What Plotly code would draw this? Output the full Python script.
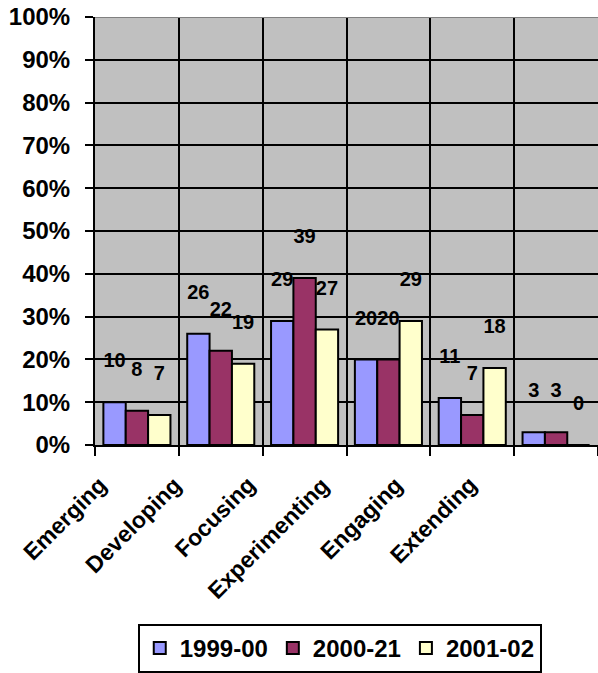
import plotly.graph_objects as go

categories = ["Emerging", "Developing", "Focusing", "Experimenting", "Engaging", "Extending"]
series_names = ["1999-00", "2000-21", "2001-02"]
values_1999 = [10, 26, 29, 20, 11, 3]
values_2000 = [8, 22, 39, 20, 7, 3]
values_2001 = [7, 19, 27, 29, 18, 0]
y_ticks = [0, 10, 20, 30, 40, 50, 60, 70, 80, 90, 100]
y_tick_labels = [f"{v}%" for v in y_ticks]

colors = ["#9999FF", "#993366", "#FFFFCC"]
series_values = [values_1999, values_2000, values_2001]
label_lift = 9.3  # data labels sit above bars (as in reference)

FONT = "Liberation Sans, Arial, sans-serif"

fig = go.Figure()
for name, vals, col in zip(series_names, series_values, colors):
    fig.add_trace(go.Bar(
        x=categories, y=vals, name=name, offsetgroup=name,
        marker=dict(color=col, line=dict(color="black", width=2)),
    ))
for name, vals in zip(series_names, series_values):
    fig.add_trace(go.Scatter(
        x=categories, y=[v + label_lift for v in vals], mode="text",
        text=[str(v) for v in vals], offsetgroup=name, showlegend=False,
        textposition="middle center", cliponaxis=False,
        textfont=dict(family=FONT, size=20, color="black", weight="bold"),
        hoverinfo="skip",
    ))

# rotated category labels
for i, c in enumerate(categories):
    fig.add_annotation(
        x=c, xref="x", y=0, yref="paper", text=c, showarrow=False,
        textangle=-45, xanchor="right", yanchor="top",
        xshift=-22 - 9.9 * i, yshift=-24,
        font=dict(family=FONT, size=23, color="black", weight="bold"),
    )

fig.add_shape(type="line", xref="paper", x0=0, x1=1, yref="y", y0=100, y1=100,
              line=dict(color="#808080", width=2), layer="above")

fig.update_layout(
    width=598, height=673,
    margin=dict(l=95, r=0, t=17, b=226),
    paper_bgcolor="white", plot_bgcolor="#C0C0C0",
    barmode="group", bargap=0.2, bargroupgap=0,
    scattermode="group", scattergap=0.2,
    font=dict(family=FONT, color="black"),
    showlegend=True,
    legend=dict(
        orientation="h", x=0.085, xanchor="left", y=-0.419, yanchor="top",
        bordercolor="black", borderwidth=2, bgcolor="white",
        font=dict(family=FONT, size=24, color="black", weight="bold"),
        itemwidth=30, tracegroupgap=0,
    ),
    xaxis=dict(
        type="category", tickson="boundaries", showticklabels=False,
        ticks="outside", ticklen=9, tickwidth=2, tickcolor="black",
        showgrid=True, gridcolor="black", gridwidth=2,
        showline=True, linecolor="black", linewidth=2,
        range=[-0.5, 5.5],
    ),
    yaxis=dict(
        range=[0, 100], tickvals=y_ticks, ticktext=y_tick_labels,
        ticks="outside", ticklen=8, tickwidth=2, tickcolor="black",
        showgrid=True, gridcolor="black", gridwidth=2,
        showline=True, linecolor="black", linewidth=2,
        zeroline=False,
        tickfont=dict(family=FONT, size=24, color="black", weight="bold"),
        ticklabelstandoff=10,
    ),
)

fig.write_html(
    "out.html",
    config={"displayModeBar": False},
    post_script="document.body.style.margin='0px';document.body.style.overflow='hidden';",
)
